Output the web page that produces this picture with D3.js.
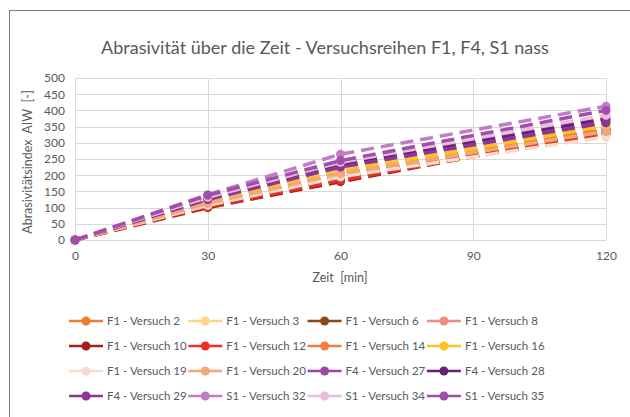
<!DOCTYPE html>
<html>
<head>
<meta charset="utf-8">
<script src="https://cdn.jsdelivr.net/npm/d3@7/dist/d3.min.js"></script>
<style>
  html, body { margin: 0; padding: 0; background: #fff; }
  svg { display: block; font-family: Lato, "Open Sans", sans-serif; }
</style>
</head>
<body>
<div id="chart"></div>
<script>
// Daten
const zeiten = [0, 30, 60, 120];
const xTicks = [0, 30, 60, 90, 120];
const yTicks = [0, 50, 100, 150, 200, 250, 300, 350, 400, 450, 500];

const namen = [
  'F1 - Versuch 2', 'F1 - Versuch 3', 'F1 - Versuch 6', 'F1 - Versuch 8',
  'F1 - Versuch 10', 'F1 - Versuch 12', 'F1 - Versuch 14', 'F1 - Versuch 16',
  'F1 - Versuch 19', 'F1 - Versuch 20', 'F4 - Versuch 27', 'F4 - Versuch 28',
  'F4 - Versuch 29', 'S1 - Versuch 32', 'S1 - Versuch 34', 'S1 - Versuch 35'
];
const farben = [
  '#ed7d31', '#ffd583', '#8a4a1c', '#f08a82',
  '#a3201f', '#ea3323', '#f0803c', '#ffc020',
  '#f7dccb', '#f3a679', '#9a4aa6', '#6a1f7a',
  '#8b3596', '#c07cc7', '#e8bddb', '#a04ea9'
];
const werte = [
  [0, 112, 205, 345],
  [0, 120, 215, 360],
  [0, 108, 195, 340],
  [0, 105, 190, 325],
  [0, 100, 180, 335],
  [0, 103, 185, 330],
  [0, 110, 200, 340],
  [0, 118, 212, 352],
  [0, 107, 195, 318],
  [0, 113, 205, 335],
  [0, 128, 230, 368],
  [0, 130, 235, 375],
  [0, 125, 225, 362],
  [0, 140, 265, 413],
  [0, 132, 240, 385],
  [0, 138, 245, 400]
];

const W = 630, H = 417;
const svg = d3.select('#chart').append('svg').attr('width', W).attr('height', H);

// Rahmen
svg.append('rect')
  .attr('x', 9.5).attr('y', 10.5).attr('width', 640).attr('height', 440)
  .attr('fill', 'none').attr('stroke', '#7f7f7f').attr('stroke-width', 1);

const x = d3.scaleLinear().domain([0, 120]).range([75, 606]);
const y = d3.scaleLinear().domain([0, 500]).range([240, 78]);

// Gitter
svg.append('g').selectAll('line').data(yTicks).join('line')
  .attr('x1', x(0)).attr('x2', x(120))
  .attr('y1', d => Math.round(y(d)) + 0.5).attr('y2', d => Math.round(y(d)) + 0.5)
  .attr('stroke', '#d9d9d9');
svg.append('g').selectAll('line').data(xTicks).join('line')
  .attr('y1', y(0)).attr('y2', y(500))
  .attr('x1', d => Math.round(x(d)) + 0.5).attr('x2', d => Math.round(x(d)) + 0.5)
  .attr('stroke', '#d9d9d9');

// Achsen
const xAxis = svg.append('g').attr('transform', `translate(0,${y(0)})`)
  .call(d3.axisBottom(x).tickValues(xTicks).tickSize(0).tickPadding(11));
const yAxis = svg.append('g').attr('transform', `translate(${x(0)},0)`)
  .call(d3.axisLeft(y).tickValues(yTicks).tickSize(0).tickPadding(10));
[xAxis, yAxis].forEach(a => {
  a.select('.domain').remove();
  a.selectAll('text').attr('fill', '#595959').style('font-size', '12px')
    .style('font-family', 'Lato, sans-serif');
});

// Linien
const linie = d3.line().x((d, i) => x(zeiten[i])).y(d => y(d));
const serien = svg.append('g').selectAll('g').data(werte).join('g')
  .attr('fill', (d, i) => farben[i]);
serien.append('path')
  .attr('d', d => linie(d))
  .attr('fill', 'none')
  .attr('stroke', (d, i) => farben[i])
  .attr('stroke-width', 3.5)
  .attr('stroke-dasharray', '13,7');
serien.selectAll('circle').data(d => d).join('circle')
  .attr('cx', (d, i) => x(zeiten[i])).attr('cy', d => y(d)).attr('r', 4.5);

// Titel und Achsentitel
svg.append('text').attr('x', 325).attr('y', 54).attr('text-anchor', 'middle')
  .attr('fill', '#595959').style('font-size', '18px')
  .text('Abrasivität über die Zeit - Versuchsreihen F1, F4, S1 nass');
svg.append('text').attr('x', 340).attr('y', 282).attr('text-anchor', 'middle')
  .attr('fill', '#595959').style('font-size', '12.5px').attr('xml:space', 'preserve')
  .text('Zeit  [min]');
svg.append('text').attr('transform', 'translate(32,162) rotate(-90)').attr('text-anchor', 'middle')
  .attr('fill', '#595959').style('font-size', '12.5px').attr('xml:space', 'preserve')
  .text('Abrasivitätsindex  AIW  [-]');

// Legende
const legende = svg.append('g').selectAll('g').data(namen).join('g')
  .attr('transform', (d, i) => `translate(${69 + (i % 4) * 119.3},${321 + Math.floor(i / 4) * 25})`);
legende.append('line').attr('x1', 0).attr('x2', 34)
  .attr('stroke', (d, i) => farben[i]).attr('stroke-width', 2.5);
legende.append('circle').attr('cx', 17).attr('r', 4.5).attr('fill', (d, i) => farben[i]);
legende.append('text').attr('x', 38).attr('dy', '0.35em')
  .attr('fill', '#595959').style('font-size', '11.5px').attr('textLength', null)
  .text(d => d);
</script>
</body>
</html>
